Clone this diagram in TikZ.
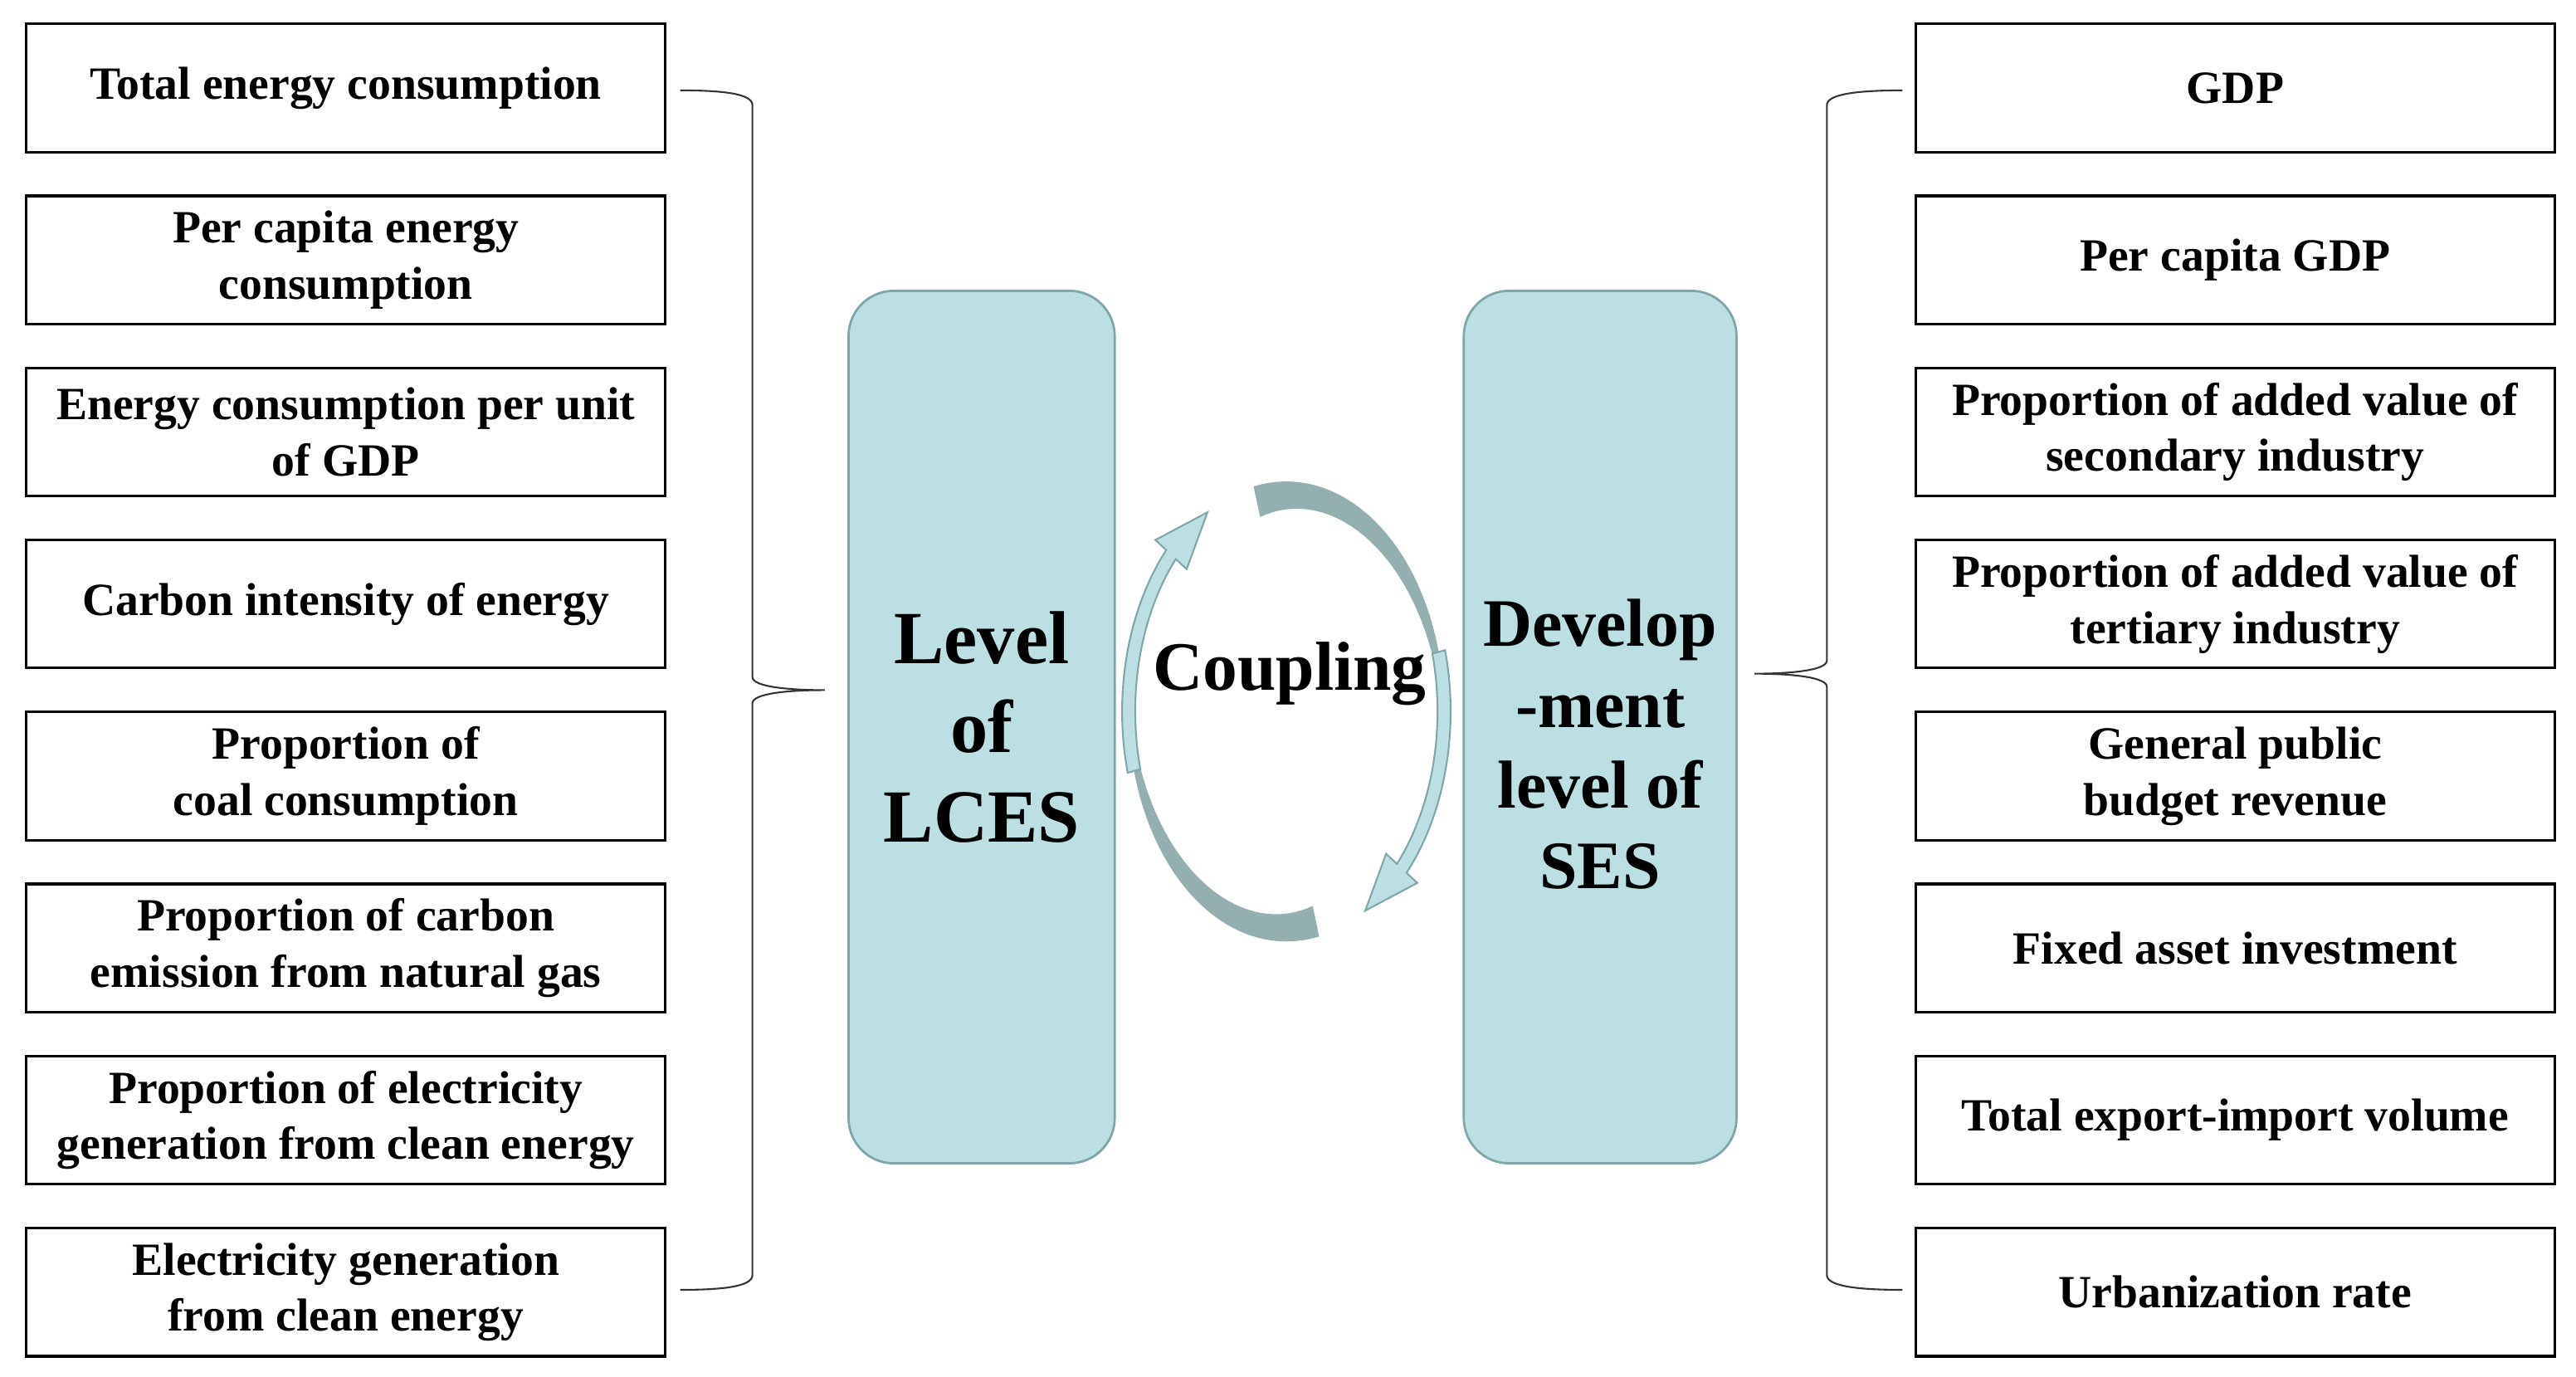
\documentclass[tikz,border=0pt]{standalone}
\usepackage{fontspec}
\setmainfont{Liberation Serif}
\begin{document}
\begin{tikzpicture}[x=0.02cm,y=-0.02cm,
  ind/.style={draw=black,line width=0.9pt,minimum width=389*0.02cm,minimum height=78*0.02cm,align=center,font=\fontsize{16}{19.5}\selectfont\bfseries,inner sep=0pt},
  big/.style={draw=lineC,fill=boxC,line width=0.8pt,rounded corners=0.55cm,minimum width=162*0.02cm,minimum height=531*0.02cm},
  brace/.style={draw=black!80,line width=0.6pt},
  darkA/.style={fill=darkC},
  lightA/.style={fill=boxC,draw=lineC,line width=0.6pt}]
\definecolor{boxC}{RGB}{187,223,226}
\definecolor{lineC}{RGB}{127,167,171}
\definecolor{darkC}{RGB}{147,175,176}
\useasboundingbox (0,0) rectangle (1568,838);
% left indicators
\foreach \t [count=\i from 0] in {Total energy consumption,
 Per capita energy\\consumption,
 Energy consumption per unit\\of GDP,
 Carbon intensity of energy,
 Proportion of\\coal consumption,
 Proportion of carbon\\emission from natural gas,
 Proportion of electricity\\generation from clean energy,
 Electricity generation\\from clean energy}
 \node[ind] (L\i) at (210.5,{53.5+104.7*\i}) {\t};
\foreach \t [count=\i from 0] in {GDP,
 Per capita GDP,
 Proportion of added value of\\secondary industry,
 Proportion of added value of\\tertiary industry,
 General public\\budget revenue,
 Fixed asset investment,
 Total export-import volume,
 Urbanization rate}
 \node[ind] (R\i) at (1360.5,{53.5+104.7*\i}) {\t};
% central blocks
\node[big,font=\fontsize{26}{31}\selectfont\bfseries,align=center] (LC) at (597.5,442.5) {Level\\of\\LCES};
\node[big,minimum width=166*0.02cm] (SC) at (974,442.5) {};
\node[font=\fontsize{23.5}{28}\selectfont\bfseries,align=center] (SCt) at (974,453) {Develop\\-ment\\level of\\SES};
% braces
\coordinate (lt) at (414,55); \coordinate (lb) at (414,785); \coordinate (ltip) at (502,420);
\draw[brace] (lt) .. controls (440,55) and (458,57) .. (458,64) -- (458,412) .. controls (458,418) and (480,420) .. (ltip)
  .. controls (480,420) and (458,422) .. (458,428) -- (458,776) .. controls (458,783) and (440,785) .. (lb);
\coordinate (rt) at (1158,55); \coordinate (rb) at (1158,785); \coordinate (rtip) at (1068,410);
\draw[brace] (rt) .. controls (1132,55) and (1112,57) .. (1112,64) -- (1112,402) .. controls (1112,408) and (1090,410) .. (rtip)
  .. controls (1090,410) and (1112,412) .. (1112,418) -- (1112,776) .. controls (1112,783) and (1132,785) .. (rb);
% cycle arrows
\fill[darkA] plot[domain=102:-10,samples=40] ({783+96*cos(\x)},{433-140*sin(\x)})
  -- plot[domain=-10:102,samples=40] ({783+(96-19*(\x+10)/112)*cos(\x)},{433-(140-19*(\x+10)/112)*sin(\x)}) -- cycle;
\fill[darkA] plot[domain=282:170,samples=40] ({783+96*cos(\x)},{433-140*sin(\x)})
  -- plot[domain=170:282,samples=40] ({783+(96-19*(\x-170)/112)*cos(\x)},{433-(140-19*(\x-170)/112)*sin(\x)}) -- cycle;
\filldraw[lightA] plot[domain=15:-43,samples=30] ({783+(96+4)*cos(\x)},{433-(140+4)*sin(\x)})
  -- ({783+(96+13)*cos(-43)},{433-(140+13)*sin(-43)}) -- ({783+96*cos(-60)},{433-140*sin(-60)})
  -- ({783+(96-13)*cos(-43)},{433-(140-13)*sin(-43)})
  -- plot[domain=-43:15,samples=30] ({783+(96-4)*cos(\x)},{433-(140-4)*sin(\x)}) -- cycle;
\filldraw[lightA] plot[domain=195:137,samples=30] ({783+(96+4)*cos(\x)},{433-(140+4)*sin(\x)})
  -- ({783+(96+13)*cos(137)},{433-(140+13)*sin(137)}) -- ({783+96*cos(120)},{433-140*sin(120)})
  -- ({783+(96-13)*cos(137)},{433-(140-13)*sin(137)})
  -- plot[domain=137:195,samples=30] ({783+(96-4)*cos(\x)},{433-(140-4)*sin(\x)}) -- cycle;
\node[font=\fontsize{24}{29}\selectfont\bfseries] (cp) at (785,410) {Coupling};
\end{tikzpicture}
\end{document}
